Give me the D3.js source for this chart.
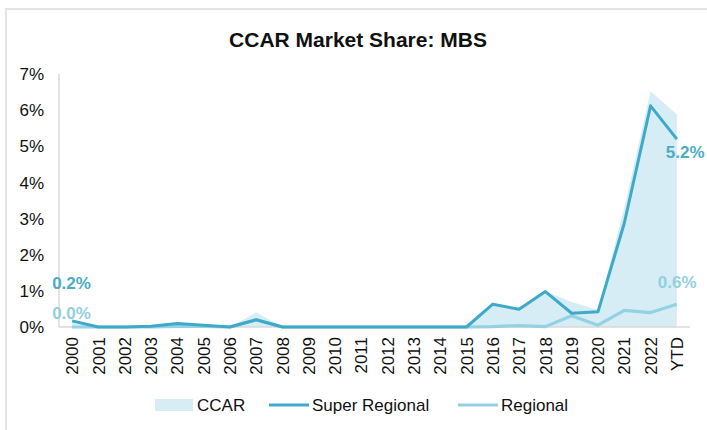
<!DOCTYPE html>
<html>
<head>
<meta charset="utf-8">
<script src="https://cdn.jsdelivr.net/npm/d3@7"></script>
<style>
  body { margin: 0; background: #fff; }
  text { font-family: "Liberation Sans", Arial, sans-serif; fill: #111; }
</style>
</head>
<body>
<div id="chart"></div>
<script>
// data (percent)
var years = ["2000","2001","2002","2003","2004","2005","2006","2007","2008","2009","2010","2011",
  "2012","2013","2014","2015","2016","2017","2018","2019","2020","2021","2022","YTD"];
var ccar = [0.17,0,0,0.02,0.12,0.07,0,0.4,0,0,0,0,0,0,0,0,0.64,0.53,0.99,0.69,0.47,3.3,6.52,5.88];
var superRegional = [0.17,0,0,0.02,0.1,0.05,0,0.2,0,0,0,0,0,0,0,0,0.63,0.49,0.98,0.38,0.42,2.87,6.12,5.2];
var regional = [0,0,0,0,0.02,0.02,0,0.2,0,0,0,0,0,0,0,0,0.01,0.04,0.01,0.31,0.05,0.46,0.4,0.63];
var yTicks = [0,1,2,3,4,5,6,7];

var colors = { ccar: "#d6edf5", superReg: "#3fa9c9", reg: "#93d1e3" };

var W = 707, H = 430;
var svg = d3.select("#chart").append("svg").attr("width", W).attr("height", H);

// light frame
svg.append("rect").attr("x", 6).attr("y", 9).attr("width", W + 10).attr("height", H + 10)
  .style("fill", "none").style("stroke", "#e4e4e4").style("stroke-width", 2);

var x = d3.scalePoint().domain(years).range([59, 690]).padding(0.5);
var y = d3.scaleLinear().domain([0, 7]).range([327, 74]);

// title
svg.append("text").attr("x", 358).attr("y", 47).attr("text-anchor", "middle")
  .style("font-size", "21px").style("font-weight", "bold").text("CCAR Market Share: MBS");

// y axis labels
svg.selectAll(".ytick").data(yTicks).enter().append("text")
  .attr("class", "ytick").attr("x", 44).attr("y", function(d) { return y(d); })
  .attr("dy", "0.36em").attr("text-anchor", "end").style("font-size", "17px")
  .text(function(d) { return d + "%"; });

// ccar area
var area = d3.area().x(function(d, i) { return x(years[i]); })
  .y0(y(0)).y1(function(d) { return y(d); });
svg.append("path").datum(ccar).attr("d", area).style("fill", colors.ccar);

// axes lines
svg.append("line").attr("x1", 59).attr("x2", 59).attr("y1", y(7)).attr("y2", y(0))
  .style("stroke", "#d9d9d9").style("stroke-width", 1.5);
svg.append("line").attr("x1", 59).attr("x2", 690).attr("y1", y(0)).attr("y2", y(0))
  .style("stroke", "#d9d9d9").style("stroke-width", 1.5);

var line = d3.line().x(function(d, i) { return x(years[i]); }).y(function(d) { return y(d); });

svg.append("path").datum(regional).attr("d", line)
  .style("fill", "none").style("stroke", colors.reg).style("stroke-width", 3.2)
  .style("stroke-linejoin", "round");
svg.append("path").datum(superRegional).attr("d", line)
  .style("fill", "none").style("stroke", colors.superReg).style("stroke-width", 3)
  .style("stroke-linejoin", "round");

// x labels
svg.selectAll(".xtick").data(years).enter().append("text")
  .attr("class", "xtick")
  .attr("transform", function(d) { return "translate(" + x(d) + ",337) rotate(-90)"; })
  .attr("dy", "0.36em").attr("text-anchor", "end").style("font-size", "17px")
  .text(function(d) { return d; });

// end labels
var last = years.length - 1;
var labels = [
  {v: superRegional[0], x: x(years[0]) - 20, y: 283, c: "#4bacc6"},
  {v: regional[0], x: x(years[0]) - 20, y: 313, c: "#93cfe0"},
  {v: superRegional[last], x: x(years[last]) - 11, y: 152, c: "#4bacc6"},
  {v: regional[last], x: x(years[last]) - 19, y: 282, c: "#93cfe0"}
];
svg.selectAll(".vlabel").data(labels).enter().append("text")
  .attr("class", "vlabel").attr("x", function(d) { return d.x; })
  .attr("y", function(d) { return d.y; }).attr("dy", "0.36em")
  .style("font-size", "17px").style("font-weight", "bold")
  .style("fill", function(d) { return d.c; })
  .text(function(d) { return d.v.toFixed(1) + "%"; });

// legend
var legendData = [
  {label: "CCAR", type: "area", color: colors.ccar, x: 155},
  {label: "Super Regional", type: "line", color: colors.superReg, x: 269},
  {label: "Regional", type: "line", color: colors.reg, x: 458}
];
var lg = svg.selectAll(".legend").data(legendData).enter().append("g")
  .attr("class", "legend").attr("transform", function(d) { return "translate(" + d.x + ",405)"; });
lg.filter(function(d) { return d.type === "area"; }).append("rect")
  .attr("x", 0).attr("y", -6).attr("width", 38).attr("height", 12)
  .style("fill", function(d) { return d.color; });
lg.filter(function(d) { return d.type === "line"; }).append("line")
  .attr("x1", 0).attr("x2", 40).attr("y1", 0).attr("y2", 0)
  .style("stroke", function(d) { return d.color; }).style("stroke-width", 3);
lg.append("text").attr("x", function(d) { return d.type === "area" ? 42 : 43; })
  .attr("dy", "0.36em").style("font-size", "17px").text(function(d) { return d.label; });
</script>
</body>
</html>
